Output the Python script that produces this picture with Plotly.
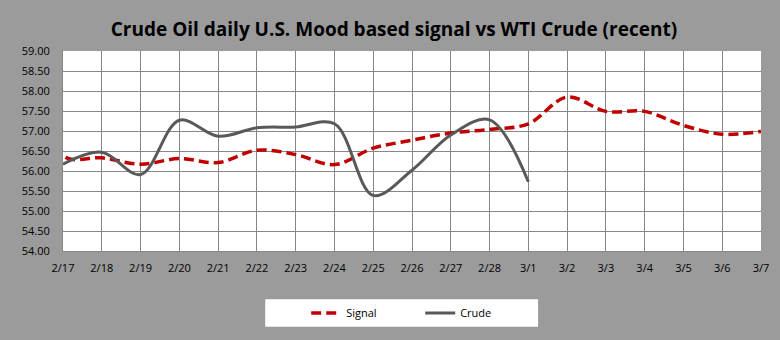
import plotly.graph_objects as go

dates = ["2/16", "2/17", "2/18", "2/19", "2/20", "2/21", "2/22", "2/23", "2/24", "2/25",
         "2/26", "2/27", "2/28", "3/1", "3/2", "3/3", "3/4", "3/5", "3/6", "3/7"]
signal = [59.5, 56.38, 56.33, 56.17, 56.31, 56.21, 56.52, 56.41, 56.16, 56.57,
          56.77, 56.95, 57.04, 57.18, 57.85, 57.49, 57.49, 57.14, 56.92, 56.99]
crude_dates = ["2/17", "2/18", "2/19", "2/20", "2/21", "2/22", "2/23", "2/24", "2/25",
               "2/26", "2/27", "2/28", "3/1"]
crude = [56.17, 56.47, 55.91, 57.27, 56.87, 57.08, 57.10, 57.18, 55.39,
         56.02, 56.90, 57.28, 55.73]

BG = "#9b9b9b"
GRID = "#878787"
FONT = "Open Sans"

fig = go.Figure()
fig.add_trace(go.Scatter(
    x=dates, y=signal, name="Signal", mode="lines",
    line=dict(color="#c00000", width=3.5, dash="10px,5px", shape="spline", smoothing=1.0),
))
fig.add_trace(go.Scatter(
    x=crude_dates, y=crude, name="Crude", mode="lines",
    line=dict(color="#595959", width=3, shape="spline", smoothing=1.0),
))

# white legend box
fig.add_shape(type="rect", xref="paper", yref="paper",
              x0=(265 - 62.7) / 698.3, x1=(538 - 62.7) / 698.3,
              y0=-(326.5 - 250.7) / 200, y1=-(299 - 250.7) / 200,
              fillcolor="white", line=dict(width=0), layer="below")

fig.update_layout(
    width=780, height=340,
    paper_bgcolor=BG, plot_bgcolor="white",
    margin=dict(l=62.7, r=19, t=50.7, b=89.3),
    font=dict(family=FONT, size=11, color="black"),
    title=dict(text="Crude Oil daily U.S. Mood based signal vs WTI Crude (recent)",
               x=0.505, xanchor="center", y=1 - 29 / 340, yanchor="middle",
               font=dict(family=FONT, size=19, color="black", weight="bold")),
    showlegend=True,
    legend=dict(orientation="h", x=(306 - 62.7) / 698.3, xanchor="left",
                y=-(312.7 - 250.7) / 200, yanchor="middle",
                bgcolor="rgba(0,0,0,0)", font=dict(family=FONT, size=11, color="black"),
                entrywidth=69, entrywidthmode="pixels", itemwidth=30),
    xaxis=dict(type="category", range=[1, 19], showgrid=True, gridcolor=GRID, gridwidth=1,
               showline=True, linecolor=GRID, linewidth=1, ticks="", ticklabelstandoff=7,
               zeroline=False, fixedrange=True),
    yaxis=dict(range=[54, 59], dtick=0.5, tickformat=".2f", showgrid=True, gridcolor=GRID,
               gridwidth=1, showline=True, linecolor=GRID, linewidth=1, ticks="",
               ticklabelstandoff=10, zeroline=False, fixedrange=True),
)

fig.write_html("out.html")
